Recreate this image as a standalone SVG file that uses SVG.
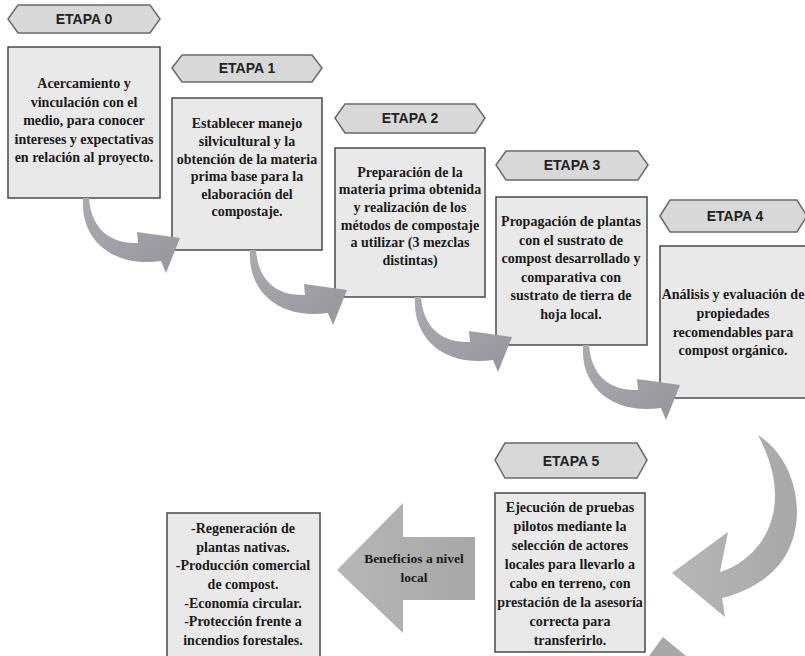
<svg xmlns="http://www.w3.org/2000/svg" width="805" height="656" viewBox="0 0 805 656">
<defs>
<style>
.box{fill:#e9e9e9;stroke:#4a4a4a;stroke-width:1.5}
.lbl{fill:#d8d8d8;stroke:#6a6a6a;stroke-width:1.5}
.lt{font-family:"Liberation Sans",Arial,sans-serif;font-weight:bold;font-size:14px;fill:#222;text-anchor:middle}
.bt{font-family:"Liberation Serif","Times New Roman",serif;font-weight:bold;font-size:14px;fill:#1a1a1a;text-anchor:middle}
.at{font-family:"Liberation Serif","Times New Roman",serif;font-weight:bold;font-size:13.5px;fill:#1a1a1a;text-anchor:middle}
</style>
<linearGradient id="ga" x1="0" y1="0" x2="1" y2="1">
<stop offset="0" stop-color="#aaaab0"/>
<stop offset="1" stop-color="#96969c"/>
</linearGradient>
<linearGradient id="gb" x1="0" y1="0" x2="1" y2="0">
<stop offset="0" stop-color="#b6b6b6"/>
<stop offset="1" stop-color="#a8a8a8"/>
</linearGradient>
<path id="carrow" d="M0,0 L6,0 C8,28 24,46 55,45 L54,34 L97,40 L83,75 L78,63 C30,70 -3,42 0,0 Z"/>
</defs>
<rect width="805" height="656" fill="#ffffff"/>

<g id="etapa0">
<polygon class="lbl" points="8,19 18,5 150,5 160,19 150,33 18,33"/>
<text class="lt" x="84" y="24">ETAPA 0</text>
<rect class="box" x="8" y="47" width="152" height="151"/>
<text class="bt" x="84" y="88">Acercamiento y</text>
<text class="bt" x="84" y="107">vinculación con el</text>
<text class="bt" x="84" y="125">medio, para conocer</text>
<text class="bt" x="84" y="144">intereses y expectativas</text>
<text class="bt" x="84" y="162">en relación al proyecto.</text>
</g>

<g id="etapa1">
<polygon class="lbl" points="172,68 182,55 312,55 322,68 312,82 182,82"/>
<text class="lt" x="247" y="73">ETAPA 1</text>
<rect class="box" x="172" y="98" width="150" height="152"/>
<text class="bt" x="247" y="128">Establecer manejo</text>
<text class="bt" x="247" y="146">silvicultural y la</text>
<text class="bt" x="247" y="164">obtención de la materia</text>
<text class="bt" x="247" y="181">prima base para la</text>
<text class="bt" x="247" y="199">elaboración del</text>
<text class="bt" x="247" y="216">compostaje.</text>
</g>

<g id="etapa2">
<polygon class="lbl" points="335,118 345,104 475,104 485,118 475,133 345,133"/>
<text class="lt" x="410" y="123">ETAPA 2</text>
<rect class="box" x="335" y="148" width="150" height="149"/>
<text class="bt" x="410" y="177">Preparación de la</text>
<text class="bt" x="410" y="194">materia prima obtenida</text>
<text class="bt" x="410" y="212">y realización de los</text>
<text class="bt" x="410" y="230">métodos de compostaje</text>
<text class="bt" x="410" y="247">a utilizar (3 mezclas</text>
<text class="bt" x="410" y="265">distintas)</text>
</g>

<g id="etapa3">
<polygon class="lbl" points="496,165 506,151 638,151 648,165 638,180 506,180"/>
<text class="lt" x="572" y="170">ETAPA 3</text>
<rect class="box" x="496" y="197" width="151" height="148"/>
<text class="bt" x="571" y="226">Propagación de plantas</text>
<text class="bt" x="571" y="245">con el sustrato de</text>
<text class="bt" x="571" y="263">compost desarrollado y</text>
<text class="bt" x="571" y="282">comparativa con</text>
<text class="bt" x="571" y="300">sustrato de tierra de</text>
<text class="bt" x="571" y="319">hoja local.</text>
</g>

<g id="etapa4">
<polygon class="lbl" points="660,216 670,200 797,200 807,216 797,232 670,232"/>
<text class="lt" x="735" y="221">ETAPA 4</text>
<rect class="box" x="660" y="246" width="150" height="152"/>
<text class="bt" x="733" y="299">Análisis y evaluación de</text>
<text class="bt" x="733" y="318">propiedades</text>
<text class="bt" x="733" y="337">recomendables para</text>
<text class="bt" x="733" y="355">compost orgánico.</text>
</g>

<g id="etapa5">
<polygon class="lbl" points="495,460 505,443 637,443 647,460 637,478 505,478"/>
<text class="lt" x="571" y="466">ETAPA 5</text>
<rect class="box" x="495" y="493" width="150" height="159"/>
<text class="bt" x="570" y="512">Ejecución de pruebas</text>
<text class="bt" x="570" y="531">pilotos mediante la</text>
<text class="bt" x="570" y="550">selección de actores</text>
<text class="bt" x="570" y="569">locales para llevarlo a</text>
<text class="bt" x="570" y="588">cabo en terreno, con</text>
<text class="bt" x="570" y="607">prestación de la asesoría</text>
<text class="bt" x="570" y="626">correcta para</text>
<text class="bt" x="570" y="645">transferirlo.</text>
</g>

<g id="beneficios">
<rect class="box" x="167" y="513" width="153" height="148"/>
<text class="bt" x="243" y="533">-Regeneración de</text>
<text class="bt" x="243" y="552">plantas nativas.</text>
<text class="bt" x="243" y="570">-Producción comercial</text>
<text class="bt" x="243" y="589">de compost.</text>
<text class="bt" x="243" y="608">-Economía circular.</text>
<text class="bt" x="243" y="626">-Protección frente a</text>
<text class="bt" x="243" y="645">incendios forestales.</text>
</g>

<g id="connectors">
<use href="#carrow" x="83" y="198" fill="url(#ga)"/>
<use href="#carrow" x="250" y="250" fill="url(#ga)"/>
<use href="#carrow" x="415" y="297" fill="url(#ga)"/>
<use href="#carrow" x="583" y="345" fill="url(#ga)"/>
<path d="M758,435 C805,465 812,545 765,578 C752,588 738,594 722,598 L725,617 L672,573 L728,532 L720,572 C760,560 798,510 758,435 Z" fill="url(#gb)"/>
<polygon points="649,656 663,637 686,656" fill="#a8a8a8"/>
<polygon points="337,570 403,503 403,537 475,537 475,600 403,600 403,633" fill="url(#gb)"/>
<text class="at" x="414" y="563">Beneficios a nivel</text>
<text class="at" x="414" y="582">local</text>
</g>
</svg>
